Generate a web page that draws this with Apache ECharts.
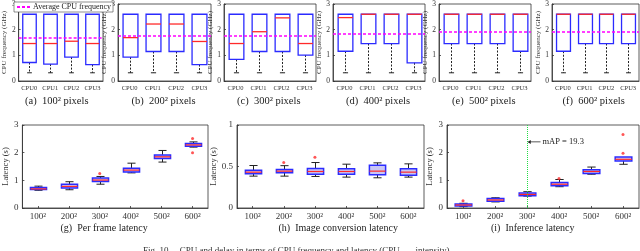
<!DOCTYPE html>
<html><head><meta charset="utf-8">
<script src="https://cdn.jsdelivr.net/npm/echarts@6/dist/echarts.min.js"></script>
<style>html,body{margin:0;padding:0;background:#fff}#c{width:640px;height:251px}</style>
</head><body><div id="c"></div>
<script>
// ---- data ----
const cpuCats = ['CPU0', 'CPU1', 'CPU2', 'CPU3'];
const sizeCats = ['100²', '200²', '300²', '400²', '500²', '600²'];
const freqTicks = [0, 1, 2, 3];

// CPU frequency boxes [min, q1, median, q3, max] (GHz)
const freqA = [[0.32, 0.72, 1.46, 2.6, 2.6], [0.32, 0.66, 1.46, 2.6, 2.6], [0.32, 0.93, 1.55, 2.6, 2.6], [0.32, 0.64, 1.46, 2.6, 2.6]];
const freqB = [[0.32, 0.93, 1.69, 2.6, 2.6], [0.32, 1.15, 2.22, 2.6, 2.6], [0.32, 1.15, 2.22, 2.6, 2.6], [0.32, 0.64, 1.54, 2.6, 2.6]];
const freqC = [[0.32, 0.84, 1.46, 2.6, 2.6], [0.32, 1.15, 1.92, 2.6, 2.6], [0.32, 1.15, 2.46, 2.6, 2.6], [0.32, 1.01, 1.46, 2.6, 2.6]];
const freqD = [[0.32, 1.16, 2.47, 2.6, 2.6], [0.32, 1.46, 2.6, 2.6, 2.6], [0.32, 1.46, 2.6, 2.6, 2.6], [0.32, 0.71, 2.6, 2.6, 2.6]];
const freqE = [[0.32, 1.46, 2.6, 2.6, 2.6], [0.32, 1.46, 2.6, 2.6, 2.6], [0.32, 1.46, 2.6, 2.6, 2.6], [0.32, 1.16, 2.6, 2.6, 2.6]];
const freqF = [[0.32, 1.16, 2.6, 2.6, 2.6], [0.32, 1.46, 2.6, 2.6, 2.6], [0.32, 1.46, 2.6, 2.6, 2.6], [0.32, 1.46, 2.6, 2.6, 2.6]];
const avgFreq = [1.68, 1.77, 1.77, 1.84, 1.92, 1.92];
const freqCaptions = ['(a)  100² pixels', '(b)  200² pixels', '(c)  300² pixels', '(d)  400² pixels', '(e)  500² pixels', '(f)  600² pixels'];

// latency boxes [min, q1, median, q3, max] (s)
const frameLat = [[0.64, 0.67, 0.69, 0.74, 0.79], [0.66, 0.72, 0.78, 0.86, 0.95], [0.86, 0.96, 1.01, 1.08, 1.14], [1.27, 1.30, 1.37, 1.44, 1.62], [1.66, 1.79, 1.85, 1.92, 2.08], [2.20, 2.23, 2.28, 2.33, 2.39]];
const frameOut = [[2, 1.25], [5, 2.51], [5, 2.00]];
const convLat = [[0.384, 0.412, 0.432, 0.456, 0.512], [0.384, 0.424, 0.444, 0.464, 0.51], [0.38, 0.408, 0.44, 0.476, 0.548], [0.372, 0.408, 0.44, 0.472, 0.528], [0.364, 0.40, 0.444, 0.516, 0.544], [0.372, 0.396, 0.432, 0.472, 0.532]];
const convOut = [[1, 0.548], [2, 0.612]];
const infLat = [[0.05, 0.072, 0.108, 0.144, 0.17], [0.22, 0.24, 0.29, 0.34, 0.37], [0.43, 0.44, 0.49, 0.54, 0.59], [0.77, 0.80, 0.86, 0.92, 1.03], [1.22, 1.25, 1.32, 1.38, 1.48], [1.58, 1.70, 1.76, 1.84, 1.84]];
const infOut = [[0, 0.26], [3, 1.07], [5, 1.98], [5, 2.66]];
const latCaptions = ['(g)  Per frame latency', '(h)  Image conversion latency', '(i)  Inference latency'];
const mapLabel = 'mAP = 19.3';
const mapAt = ['300²', 2.39];
const figCaption = 'Fig. 10.    CPU and delay in terms of CPU frequency and latency (CPU  ...  intensity)';

// ---- layout ----
const FONT = 'Liberation Serif';
const topGrids = [
  {left: 13, width: 90}, {left: 118, width: 93}, {left: 224, width: 92},
  {left: 333, width: 92}, {left: 439, width: 92}, {left: 552, width: 87}
];
const botGrids = [{left: 17, width: 191}, {left: 237, width: 187}, {left: 447, width: 192}];

function boxRenderer(o) {
  return function (params, api) {
    const x = api.value(0);
    const vMin = api.value(1), q1 = api.value(2), med = api.value(3), q3 = api.value(4), vMax = api.value(5);
    const band = api.size([1, 0])[0];
    const bw = band * o.ratio, cw = bw * o.cap;
    const pMin = api.coord([x, vMin]), pQ1 = api.coord([x, q1]), pMed = api.coord([x, med]), pQ3 = api.coord([x, q3]), pMax = api.coord([x, vMax]);
    const cx = Math.round(pMin[0]) + 0.5;
    const ch = [];
    ch.push({type: 'line', shape: {x1: cx, y1: pQ1[1], x2: cx, y2: pMin[1]}, style: {stroke: '#222', lineWidth: 1, lineDash: o.dash}});
    ch.push({type: 'line', shape: {x1: cx - cw / 2, y1: pMin[1], x2: cx + cw / 2, y2: pMin[1]}, style: {stroke: '#222', lineWidth: 1}});
    if (vMax > q3) {
      ch.push({type: 'line', shape: {x1: cx, y1: pQ3[1], x2: cx, y2: pMax[1]}, style: {stroke: '#222', lineWidth: 1, lineDash: o.dash}});
      ch.push({type: 'line', shape: {x1: cx - cw / 2, y1: pMax[1], x2: cx + cw / 2, y2: pMax[1]}, style: {stroke: '#222', lineWidth: 1}});
    }
    ch.push({type: 'rect', shape: {x: cx - bw / 2, y: pQ3[1], width: bw, height: pQ1[1] - pQ3[1]}, style: {fill: o.fill, stroke: '#2b2bff', lineWidth: o.bwid}});
    ch.push({type: 'line', shape: {x1: cx - bw / 2, y1: pMed[1], x2: cx + bw / 2, y2: pMed[1]}, style: {stroke: '#ff2a2a', lineWidth: o.mwid}});
    return {type: 'group', children: ch};
  };
}
const toItems = arr => arr.map((d, i) => [i].concat(d));

const grid = [], xAxis = [], yAxis = [], series = [], graphic = [];
const axisLineStyle = {color: '#333', width: 0.8};
const freqSets = [freqA, freqB, freqC, freqD, freqE, freqF];
const AVG_COLOR = '#ff00ff';
const MAP_COLOR = '#22dd44';

topGrids.forEach((g, i) => {
  grid.push({left: g.left, width: g.width, top: 2, height: 79, show: true, borderColor: '#333', borderWidth: 0.8, containLabel: false});
  xAxis.push({type: 'category', gridIndex: i, data: cpuCats, axisLine: {lineStyle: axisLineStyle}, axisTick: {show: false},
    axisLabel: {interval: 0, hideOverlap: false, fontSize: 6.5, fontFamily: FONT, color: '#333', margin: 4}});
  yAxis.push({type: 'value', gridIndex: i, min: freqTicks[0], max: freqTicks[freqTicks.length - 1], interval: 1,
    axisLine: {show: true, lineStyle: axisLineStyle}, axisTick: {show: true, inside: true, length: 2, lineStyle: axisLineStyle},
    splitLine: {show: false}, axisLabel: {fontSize: 7.5, fontFamily: FONT, color: '#333', margin: 3},
    name: 'CPU frequency (GHz)', nameLocation: 'middle', nameGap: 9, nameTextStyle: {fontSize: 7, fontFamily: FONT, color: '#333'}});
  series.push({type: 'custom', xAxisIndex: i, yAxisIndex: i, data: toItems(freqSets[i]), encode: {x: 0, y: [1, 2, 3, 4, 5]},
    renderItem: boxRenderer({ratio: 0.64, cap: 0.35, fill: 'rgba(255,255,255,0)', bwid: 1.3, mwid: 1.3, dash: [2, 1.5]}), z: 3});
  series.push({type: 'line', name: 'Average CPU frequency', xAxisIndex: i, yAxisIndex: i, data: [], symbol: 'none',
    itemStyle: {color: AVG_COLOR}, lineStyle: {type: [3, 2], width: 1.5, color: AVG_COLOR},
    markLine: {silent: true, symbol: 'none', label: {show: false}, lineStyle: {type: [3, 2], width: 1.5, color: AVG_COLOR, opacity: 1},
      data: [{yAxis: avgFreq[i], lineStyle: {color: AVG_COLOR, type: [3, 2], width: 1.5, opacity: 1}}]}, z: 4});
  graphic.push({type: 'text', left: g.left + g.width / 2 - 33, top: 96, style: {text: freqCaptions[i], font: '10.5px ' + FONT, fill: '#222'}});
});

const latSets = [frameLat, convLat, infLat];
const outSets = [frameOut, convOut, infOut];
const latMax = [3, 1, 3];
const latInt = [1, 0.5, 1];
botGrids.forEach((g, j) => {
  const k = 6 + j;
  grid.push({left: g.left, width: g.width, top: 125, height: 83, show: true, borderColor: '#333', borderWidth: 0.8});
  xAxis.push({type: 'category', gridIndex: k, data: sizeCats, axisLine: {lineStyle: axisLineStyle},
    axisTick: {show: true, inside: true, alignWithLabel: true, length: 2, lineStyle: axisLineStyle},
    axisLabel: {interval: 0, fontSize: 9, fontFamily: FONT, color: '#333', margin: 4}});
  yAxis.push({type: 'value', gridIndex: k, min: 0, max: latMax[j], interval: latInt[j],
    axisLine: {show: true, lineStyle: axisLineStyle}, axisTick: {show: true, inside: true, length: 2, lineStyle: axisLineStyle},
    splitLine: {show: false}, axisLabel: {fontSize: 9, fontFamily: FONT, color: '#333', margin: 4},
    name: 'Latency (s)', nameLocation: 'middle', nameGap: j === 1 ? 16 : 10, nameTextStyle: {fontSize: 8.5, fontFamily: FONT, color: '#333'}});
  const s = {type: 'custom', xAxisIndex: k, yAxisIndex: k, data: toItems(latSets[j]), encode: {x: 0, y: [1, 2, 3, 4, 5]},
    renderItem: boxRenderer({ratio: 0.52, cap: 0.5, fill: '#c9c6f4', bwid: 1.5, mwid: 1.2, dash: null}), z: 3};
  series.push(s);
  if (j === 2) {
    series.push({type: 'line', xAxisIndex: k, yAxisIndex: k, data: [], symbol: 'none', z: 2,
      itemStyle: {color: MAP_COLOR}, lineStyle: {color: MAP_COLOR},
      markLine: {silent: true, symbol: 'none', label: {show: false}, lineStyle: {type: 'dotted', width: 1, color: MAP_COLOR, opacity: 1},
        data: [{xAxis: mapAt[0], lineStyle: {type: 'dotted', width: 1, color: MAP_COLOR, opacity: 1}}]},
      markPoint: {silent: true, symbol: 'path://M0,5 L5,1.5 L5,4.3 L20,4.3 L20,5.7 L5,5.7 L5,8.5 Z', symbolSize: [13, 4], symbolOffset: [7, 0],
        itemStyle: {color: '#222'},
        label: {show: true, position: 'right', distance: 2, formatter: mapLabel, fontSize: 8.5, fontFamily: FONT, color: '#222'},
        data: [{coord: mapAt}]}});
  }
  series.push({type: 'scatter', xAxisIndex: k, yAxisIndex: k, data: outSets[j], symbol: 'circle', symbolSize: 3,
    itemStyle: {color: '#ff2a2a'}, z: 5});
  graphic.push({type: 'text', left: g.left + g.width / 2 - 52, top: 223, style: {text: latCaptions[j], font: '10px ' + FONT, fill: '#222'}});
});
graphic.push({type: 'text', left: 143, top: 246, style: {text: figCaption, font: '9px ' + FONT, fill: '#333'}});

const chart = echarts.init(document.getElementById('c'), null, {renderer: 'canvas'});
chart.setOption({
  animation: false,
  backgroundColor: '#fff',
  grid, xAxis, yAxis, series, graphic,
  legend: {left: 14, top: 2, data: ['Average CPU frequency'], orient: 'horizontal', itemWidth: 13, itemHeight: 2, itemGap: 2,
    padding: [1, 2], borderColor: '#444', borderWidth: 0.6, backgroundColor: '#fff',
    textStyle: {fontSize: 8, fontFamily: FONT, color: '#222', padding: [0, 0, 0, -2]}}
});
</script></body></html>
